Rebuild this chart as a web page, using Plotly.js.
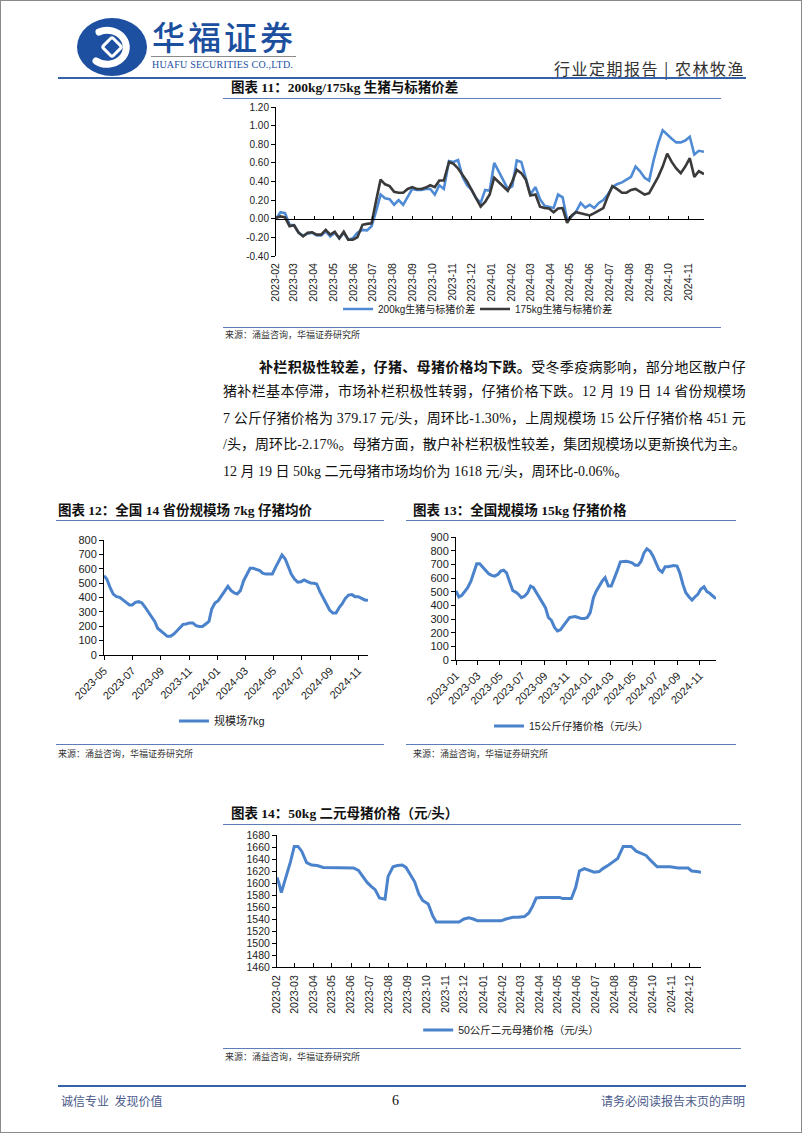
<!DOCTYPE html>
<html><head><meta charset="utf-8">
<script src="https://cdn.plot.ly/plotly-3.0.1.min.js"></script>
<style>
html,body{margin:0;padding:0;background:#fff;}
#page{position:relative;width:802px;height:1133px;overflow:hidden;box-sizing:border-box;border:1px solid #8a8a8a;font-family:"Liberation Serif","Noto Sans CJK SC",serif;color:#111;}
.abs{position:absolute;white-space:nowrap;}
.hl{position:absolute;height:1px;background:#5c7db8;}
.ttl{position:absolute;font-size:13.5px;font-weight:700;line-height:16px;color:#111;white-space:nowrap;font-family:"Liberation Serif","Noto Sans CJK SC",serif;}
.src{position:absolute;font-size:9px;line-height:11px;color:#333;font-family:"Noto Sans CJK SC",sans-serif;white-space:nowrap;}
.jl{position:absolute;font-size:14px;line-height:18px;white-space:nowrap;display:inline-block;}
.chart{position:absolute;}
</style></head>
<body>
<div id="page">
  <!-- header -->
  <svg class="abs" style="left:75px;top:16px" width="74" height="62" viewBox="0 0 74 62">
    <ellipse cx="36" cy="30" rx="35" ry="29" fill="#1d50a0"/>
    <path d="M 23 15 A 19 17 0 1 1 20 44" stroke="#fff" stroke-width="7" fill="none" stroke-linecap="round"/>
    <rect x="29" y="23" width="14" height="14" rx="2" transform="rotate(45 36 30)" fill="none" stroke="#fff" stroke-width="3"/>
  </svg>
  <div class="abs" style="left:151px;top:15px;font-size:33px;line-height:40px;font-weight:500;color:#1d4f9f;letter-spacing:3px;font-family:'Noto Sans CJK SC',sans-serif;">华福证券</div>
  <div class="abs" style="left:150px;top:55px;width:145px;height:1px;background:#8a8a8a;"></div>
  <div class="abs" style="left:151px;top:58px;font-size:10px;line-height:11px;color:#1d4f9f;letter-spacing:0.2px;font-family:'Liberation Serif',serif;">HUAFU SECURITIES CO.,LTD.</div>
  <div class="abs" style="right:56px;top:57px;font-size:16px;line-height:20px;color:#333;letter-spacing:1.5px;font-family:'Noto Sans CJK SC',sans-serif;">行业定期报告 | 农林牧渔</div>
  <div class="abs" style="left:57px;top:76px;width:688px;height:2px;background:#3461a8;"></div>

  <!-- chart 11 -->
  <div class="ttl" style="left:230px;top:79px;">图表 11：200kg/175kg 生猪与标猪价差</div>
  <div class="hl" style="left:222px;top:97px;width:498px;"></div>
  <div id="c11" class="chart" style="left:220px;top:98px;width:500px;height:225px;"></div>
  <div class="hl" style="left:222px;top:326px;width:498px;"></div>
  <div class="src" style="left:224px;top:328px;">来源：涌益咨询，华福证券研究所</div>

  <!-- paragraph -->
  <span class="jl" data-w="487" style="left:258px;top:356px;"><b style="font-family:'Noto Sans CJK SC',sans-serif;">补栏积极性较差，仔猪、母猪价格均下跌。</b>受冬季疫病影响，部分地区散户仔</span>
  <span class="jl" data-w="523" style="left:222px;top:382px;">猪补栏基本停滞，市场补栏积极性转弱，仔猪价格下跌。12 月 19 日 14 省份规模场</span>
  <span class="jl" data-w="523" style="left:222px;top:409px;">7 公斤仔猪价格为 379.17 元/头，周环比-1.30%，上周规模场 15 公斤仔猪价格 451 元</span>
  <span class="jl" data-w="523" style="left:222px;top:435px;">/头，周环比-2.17%。母猪方面，散户补栏积极性较差，集团规模场以更新换代为主。</span>
  <span class="jl" style="left:222px;top:462px;">12 月 19 日 50kg 二元母猪市场均价为 1618 元/头，周环比-0.06%。</span>

  <!-- chart 12 -->
  <div class="ttl" style="left:57px;top:502px;">图表 12：全国 14 省份规模场 7kg 仔猪均价</div>
  <div class="hl" style="left:55px;top:519px;width:328px;"></div>
  <div id="c12" class="chart" style="left:50px;top:525px;width:335px;height:210px;"></div>
  <div class="hl" style="left:55px;top:743px;width:328px;"></div>
  <div class="src" style="left:57px;top:747px;">来源：涌益咨询，华福证券研究所</div>

  <!-- chart 13 -->
  <div class="ttl" style="left:412px;top:502px;">图表 13：全国规模场 15kg 仔猪价格</div>
  <div class="hl" style="left:405px;top:519px;width:330px;"></div>
  <div id="c13" class="chart" style="left:400px;top:525px;width:335px;height:210px;"></div>
  <div class="hl" style="left:405px;top:743px;width:330px;"></div>
  <div class="src" style="left:412px;top:747px;">来源：涌益咨询，华福证券研究所</div>

  <!-- chart 14 -->
  <div class="ttl" style="left:230px;top:805px;">图表 14：50kg 二元母猪价格（元/头）</div>
  <div class="hl" style="left:222px;top:823px;width:518px;"></div>
  <div id="c14" class="chart" style="left:220px;top:826px;width:520px;height:215px;"></div>
  <div class="hl" style="left:222px;top:1047px;width:518px;"></div>
  <div class="src" style="left:224px;top:1050px;">来源：涌益咨询，华福证券研究所</div>

  <!-- footer -->
  <div class="abs" style="left:57px;top:1084px;width:688px;height:2px;background:#3461a8;"></div>
  <div class="abs" style="left:60px;top:1092px;font-size:12px;line-height:16px;color:#4a5a8a;font-family:'Noto Sans CJK SC',sans-serif;">诚信专业&nbsp;&nbsp;发现价值</div>
  <div class="abs" style="left:391px;top:1091px;font-size:14px;line-height:18px;color:#111;">6</div>
  <div class="abs" style="right:56px;top:1092px;font-size:12px;line-height:16px;color:#4a5a8a;font-family:'Noto Sans CJK SC',sans-serif;">请务必阅读报告末页的声明</div>
</div>

<script>
// ---------- data ----------
// 图表11: weekly, 2023-02 .. 2024-11
const c11Start = '2023-02-01', c11End = '2024-11-25';
const spread200 = [0.00,0.07,0.06,-0.065,-0.07,-0.15,-0.18,-0.16,-0.15,-0.18,
  -0.18,-0.135,-0.19,-0.15,-0.21,-0.15,-0.225,-0.21,-0.15,-0.12,
  -0.125,-0.08,0.08,0.26,0.22,0.21,0.15,0.20,0.15,0.24,
  0.32,0.31,0.31,0.32,0.32,0.26,0.36,0.32,0.62,0.61,
  0.63,0.45,0.36,0.31,0.22,0.17,0.31,0.30,0.60,0.51,
  0.42,0.32,0.35,0.625,0.61,0.44,0.26,0.34,0.21,0.14,
  0.13,0.115,0.26,0.23,-0.01,0.025,0.08,0.17,0.12,0.15,
  0.115,0.17,0.20,0.26,0.34,0.37,0.39,0.42,0.45,0.56,
  0.51,0.44,0.41,0.63,0.81,0.95,0.90,0.86,0.82,0.82,
  0.84,0.88,0.69,0.73,0.72];
const spread175 = [0.01,0.025,0.015,-0.08,-0.07,-0.15,-0.19,-0.15,-0.145,-0.17,
  -0.17,-0.12,-0.17,-0.14,-0.21,-0.14,-0.225,-0.225,-0.20,-0.065,
  -0.055,-0.05,0.19,0.42,0.37,0.35,0.29,0.28,0.28,0.32,
  0.34,0.32,0.32,0.335,0.36,0.34,0.41,0.41,0.61,0.59,
  0.54,0.47,0.40,0.31,0.22,0.13,0.18,0.26,0.44,0.39,
  0.35,0.30,0.40,0.525,0.49,0.42,0.25,0.26,0.13,0.115,
  0.11,0.07,0.11,0.115,-0.045,0.035,0.07,0.06,0.05,0.035,
  0.06,0.085,0.115,0.24,0.35,0.32,0.28,0.28,0.31,0.32,
  0.29,0.26,0.275,0.36,0.45,0.56,0.70,0.61,0.54,0.49,
  0.56,0.65,0.45,0.51,0.48];
const c11Names = ['200kg生猪与标猪价差','175kg生猪与标猪价差'];

// 图表12: weekly 7kg piglet price
const c12Start = '2023-05-01', c12End = '2024-11-22';
const piglet7 = [552,529,471,424,406,401,383,366,348,348,
  366,371,362,332,297,269,232,186,169,151,
  130,130,146,169,192,213,216,223,223,204,
  199,199,216,234,320,362,378,413,448,478,
  448,431,424,448,517,563,603,603,594,587,
  570,563,563,563,610,656,696,668,617,563,
  529,506,510,522,510,501,499,494,441,401,
  355,313,292,292,332,355,394,417,420,406,
  406,397,383,380];
const c12Name = '规模场7kg';

// 图表13: weekly 15kg piglet price
const c13Start = '2023-01-01', c13End = '2024-12-16';
const piglet15 = [505,461,473,505,529,577,638,704,704,679,
  655,631,619,614,626,650,657,638,577,509,
  497,480,456,468,492,541,529,492,456,420,
  383,311,291,238,213,221,250,286,311,315,
  318,311,303,303,311,347,456,505,546,577,
  602,541,541,590,650,718,723,723,718,711,
  694,694,723,784,813,796,759,704,662,643,
  682,682,687,691,687,633,553,492,461,439,
  461,480,517,536,500,488,468,449];
const c13Name = '15公斤仔猪价格（元/头）';

// 图表14: 50kg sow price
const sowDates = ['2023-02-01','2023-02-04','2023-02-08','2023-02-12','2023-02-17','2023-02-23','2023-03-01','2023-03-07','2023-03-13','2023-03-21',
  '2023-03-29','2023-04-07','2023-04-17','2023-05-07','2023-05-31','2023-06-05','2023-06-13','2023-06-20','2023-06-27','2023-07-04',
  '2023-07-10','2023-07-17','2023-07-26','2023-07-31','2023-08-08','2023-08-15','2023-08-23','2023-08-29','2023-09-05','2023-09-12',
  '2023-09-19','2023-09-25','2023-10-04','2023-10-11','2023-10-17','2023-10-27','2023-11-12','2023-11-23','2023-12-01','2023-12-09',
  '2023-12-16','2023-12-23','2024-01-11','2024-01-30','2024-02-07','2024-02-18','2024-02-26','2024-03-08','2024-03-15','2024-03-21',
  '2024-03-27','2024-04-04','2024-04-17','2024-05-04','2024-05-09','2024-05-23','2024-05-30','2024-06-05','2024-06-13','2024-06-21',
  '2024-06-29','2024-07-07','2024-07-13','2024-07-21','2024-07-29','2024-08-06','2024-08-15','2024-08-28','2024-09-05','2024-09-13',
  '2024-09-21','2024-09-30','2024-10-09','2024-10-30','2024-11-07','2024-11-12','2024-11-28','2024-12-04','2024-12-12','2024-12-19'];
const sowPrice = [1609,1600,1584,1597,1614,1636,1661,1661,1653,1634,
  1630,1629,1626,1626,1626,1625,1621,1611,1601,1594,
  1589,1575,1573,1611,1627,1629,1630,1626,1614,1602,
  1581,1571,1565,1546,1535,1535,1535,1535,1540,1542,
  1540,1537,1537,1537,1540,1543,1543,1544,1550,1561,
  1575,1576,1576,1576,1574,1574,1593,1620,1624,1621,
  1618,1619,1624,1629,1635,1641,1661,1661,1653,1650,
  1646,1636,1627,1627,1626,1625,1625,1620,1619,1618];
const c14Name = '50公斤二元母猪价格（元/头）';

// ---------- helpers ----------
function weekly(start, end, n){
  const s = Date.parse(start), e = Date.parse(end);
  const out = [];
  for (let i = 0; i < n; i++) out.push(new Date(s + (e - s) * i / (n - 1)).toISOString().slice(0, 10));
  return out;
}
const LAT = 'Liberation Sans, Arial, sans-serif';
const CJK = 'Liberation Sans, Noto Sans CJK SC, sans-serif';
const BLUE = '#4a82cc', DARK = '#3a3a3a';
const cfg = {staticPlot: true, displayModeBar: false};
function yTicks(lo, hi, step, dec){
  const v = [], t = [];
  for (let x = lo; x <= hi + 1e-9; x += step){ v.push(+x.toFixed(6)); t.push(x.toFixed(dec)); }
  return {tickvals: v, ticktext: t};
}
function baseY(lo, hi, step, dec, size){
  return Object.assign({range: [lo, hi], tickmode: 'array', showline: true, linecolor: '#000', linewidth: 1,
    ticks: 'outside', ticklen: 4, tickcolor: '#000', showgrid: false, zeroline: false,
    tickfont: {family: LAT, size: size, color: '#222'}, fixedrange: true}, yTicks(lo, hi, step, dec));
}

// ---------- chart 11 ----------
(function(){
  const d = weekly(c11Start, c11End, spread200.length);
  const traces = [
    {x: d, y: spread200, name: c11Names[0], mode: 'lines', line: {color: '#4f8ad4', width: 2.6}, legend: 'legend'},
    {x: d, y: spread175, name: c11Names[1], mode: 'lines', line: {color: DARK, width: 2.6}, legend: 'legend2'},
    {x: d, y: spread200, xaxis: 'x2', mode: 'lines', line: {width: 0}, showlegend: false, hoverinfo: 'skip'}
  ];
  const legFont = {family: CJK, size: 10, color: '#222'};
  const layout = {
    width: 500, height: 225, margin: {l: 55, r: 17, t: 8, b: 68, autoexpand: false},
    paper_bgcolor: 'rgba(0,0,0,0)', plot_bgcolor: 'rgba(0,0,0,0)',
    showlegend: true,
    legend: {orientation: 'h', x: 0.145, xanchor: 'left', y: -0.356, yanchor: 'middle', font: legFont, bgcolor: 'rgba(0,0,0,0)'},
    legend2: {orientation: 'h', x: 0.465, xanchor: 'left', y: -0.356, yanchor: 'middle', font: legFont, bgcolor: 'rgba(0,0,0,0)'},
    xaxis: {type: 'date', range: [c11Start, c11End], tick0: '2023-02-01', dtick: 'M1', tickformat: '%Y-%m',
      tickangle: -90, showline: false, showgrid: false, zeroline: false, ticks: '', ticklabelstandoff: 4,
      tickfont: {family: LAT, size: 10.5, color: '#222'}},
    xaxis2: {type: 'date', overlaying: 'x', anchor: 'free', position: 0.25, range: [c11Start, c11End],
      tick0: '2023-02-01', dtick: 'M1', ticks: 'inside', ticklen: 3, tickcolor: '#000',
      showline: true, linecolor: '#000', linewidth: 1, showticklabels: false, showgrid: false, zeroline: false},
    yaxis: baseY(-0.4, 1.2, 0.2, 2, 10)
  };
  Plotly.newPlot('c11', traces, layout, cfg);
})();

// ---------- chart 12 ----------
(function(){
  const d = weekly(c12Start, c12End, piglet7.length);
  const layout = {
    width: 335, height: 210, margin: {l: 53, r: 18, t: 14, b: 81, autoexpand: false},
    paper_bgcolor: 'rgba(0,0,0,0)', plot_bgcolor: 'rgba(0,0,0,0)',
    showlegend: true,
    legend: {orientation: 'h', x: 0.265, xanchor: 'left', y: -0.574, yanchor: 'middle',
      font: {family: CJK, size: 11, color: '#222'}},
    xaxis: {type: 'date', range: [c12Start, c12End], tick0: '2023-05-01', dtick: 'M2', tickformat: '%Y-%m',
      tickangle: -45, showline: true, linecolor: '#000', ticks: 'outside', ticklen: 4, tickcolor: '#000',
      showgrid: false, zeroline: false, tickfont: {family: LAT, size: 11, color: '#222'}},
    yaxis: baseY(0, 800, 100, 0, 11)
  };
  Plotly.newPlot('c12', [{x: d, y: piglet7, name: c12Name, mode: 'lines', line: {color: BLUE, width: 3}}], layout, cfg);
})();

// ---------- chart 13 ----------
(function(){
  const d = weekly(c13Start, c13End, piglet15.length);
  const layout = {
    width: 335, height: 210, margin: {l: 55, r: 20, t: 11, b: 76, autoexpand: false},
    paper_bgcolor: 'rgba(0,0,0,0)', plot_bgcolor: 'rgba(0,0,0,0)',
    showlegend: true,
    legend: {orientation: 'h', x: 0.127, xanchor: 'left', y: -0.537, yanchor: 'middle',
      font: {family: CJK, size: 10.5, color: '#222'}},
    xaxis: {type: 'date', range: [c13Start, c13End], tick0: '2023-01-01', dtick: 'M2', tickformat: '%Y-%m',
      tickangle: -45, showline: true, linecolor: '#000', ticks: 'outside', ticklen: 4, tickcolor: '#000',
      showgrid: false, zeroline: false, tickfont: {family: LAT, size: 11, color: '#222'}},
    yaxis: baseY(0, 900, 100, 0, 11)
  };
  Plotly.newPlot('c13', [{x: d, y: piglet15, name: c13Name, mode: 'lines', line: {color: BLUE, width: 3}}], layout, cfg);
})();

// ---------- chart 14 ----------
(function(){
  const layout = {
    width: 520, height: 215, margin: {l: 56, r: 40, t: 8, b: 75, autoexpand: false},
    paper_bgcolor: 'rgba(0,0,0,0)', plot_bgcolor: 'rgba(0,0,0,0)',
    showlegend: true,
    legend: {orientation: 'h', x: 0.333, xanchor: 'left', y: -0.477, yanchor: 'middle',
      font: {family: CJK, size: 10.5, color: '#222'}},
    xaxis: {type: 'date', range: ['2023-02-01', '2024-12-19'], tick0: '2023-02-01', dtick: 'M1', tickformat: '%Y-%m',
      tickangle: -90, showline: true, linecolor: '#000', ticks: 'inside', ticklen: 4, tickcolor: '#000',
      ticklabelstandoff: 3,
      showgrid: false, zeroline: false, tickfont: {family: LAT, size: 10.5, color: '#222'}},
    yaxis: baseY(1460, 1680, 20, 0, 10.5)
  };
  Plotly.newPlot('c14', [{x: sowDates, y: sowPrice, name: c14Name, mode: 'lines', line: {color: BLUE, width: 3}}], layout, cfg);
})();

// ---------- justify paragraph lines ----------
function justify(){
  document.querySelectorAll('.jl[data-w]').forEach(el => {
    el.style.letterSpacing = '0px';
    const target = +el.dataset.w;
    const nat = el.getBoundingClientRect().width;
    const n = el.textContent.length;
    el.style.letterSpacing = ((target - nat) / n) + 'px';
  });
}
justify();
if (document.fonts && document.fonts.ready) document.fonts.ready.then(justify);
</script>
</body></html>
